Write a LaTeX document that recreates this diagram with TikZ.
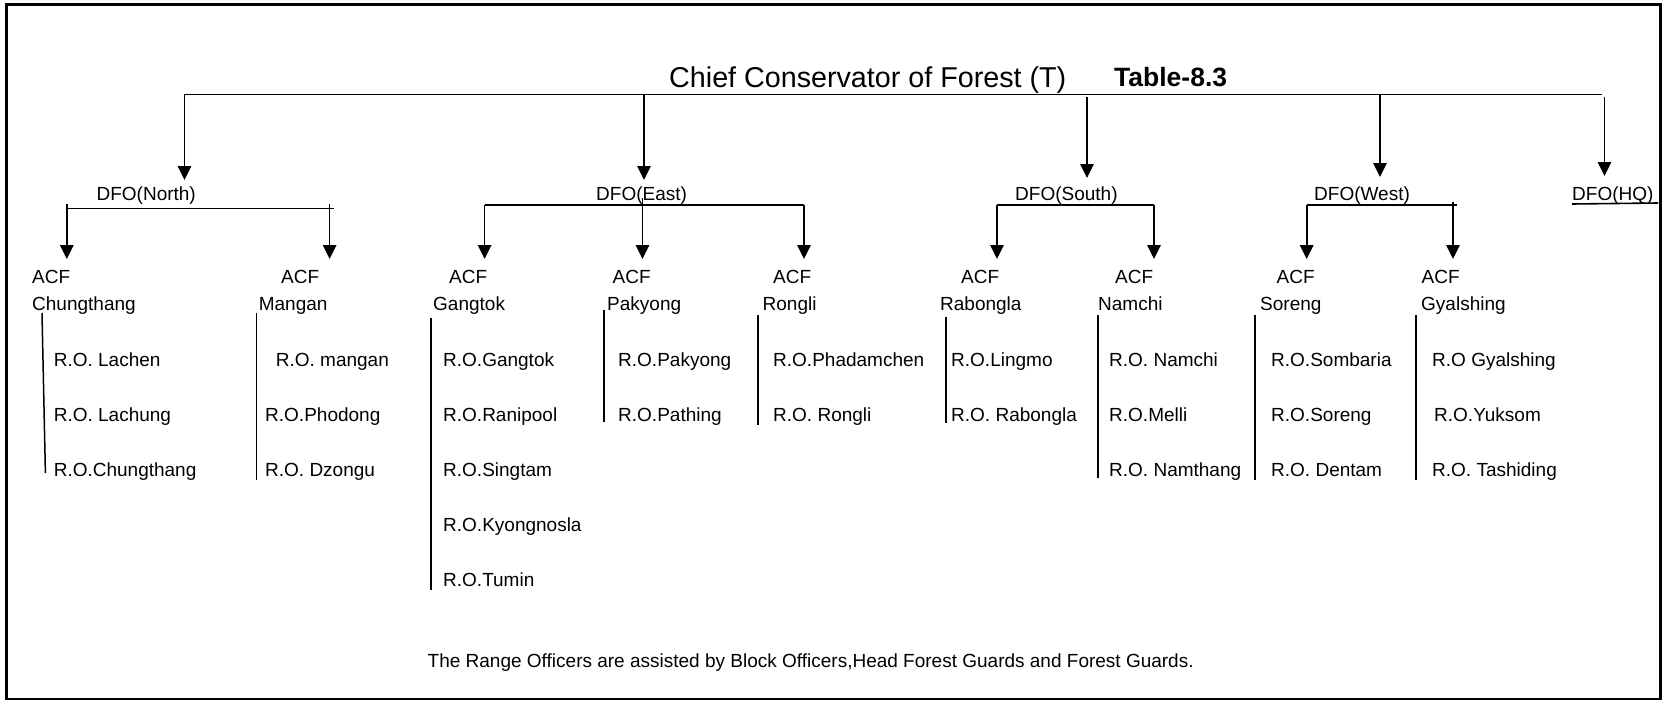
\documentclass[tikz,border=0pt]{standalone}
\usepackage{fontspec}
\setmainfont{Liberation Sans}
\usetikzlibrary{arrows.meta}

\tikzset{
  Label/.style={anchor=base west, inner sep=0pt, font=\fontsize{19}{22}\selectfont},
  Arrow/.style={line width=1.6pt, -{Triangle[length=14pt,width=13.5pt]}},
  Bus/.style={line width=1.6pt},
  Bar/.style={line width=1.5pt}
}

\begin{document}
\begin{tikzpicture}[x=1pt,y=-1pt]
    \useasboundingbox (0,0) rectangle (1663,701);
    \draw[line width=2.6pt] (6.5,4.5) rectangle (1660.5,699);

    \node[Label, font=\fontsize{28.7}{34}\selectfont] (CCF) at (669,87.3) {Chief Conservator of Forest (T)};
    \node[Label, font=\fontsize{26.5}{30}\selectfont\bfseries] (TAB) at (1114,87) {Table-8.3};

    % DFO level
    \node[Label] (DN) at (96.4,200)  {DFO(North)};
    \node[Label] (DE) at (596,200)   {DFO(East)};
    \node[Label] (DS) at (1015,200)  {DFO(South)};
    \node[Label] (DW) at (1314,200)  {DFO(West)};
    \node[Label] (DH) at (1572,200)  {DFO(HQ)};

    \coordinate (bN) at (184.5,94.4);  \coordinate (tN) at (184.5,180);
    \coordinate (bE) at (644,94.4);    \coordinate (tE) at (644,180);
    \coordinate (bS) at (1087,97);     \coordinate (tS) at (1087,178);
    \coordinate (bW) at (1380,94.4);   \coordinate (tW) at (1380,177);
    \coordinate (bH) at (1604.5,97);   \coordinate (tH) at (1604.5,176);
    \coordinate (bEnd) at (1602,94.4);

    \draw[Bus] (bN) -- (bEnd);
    \draw[Arrow] (bN) -- (tN);
    \draw[Arrow] (bE) -- (tE);
    \draw[Arrow] (bS) -- (tS);
    \draw[Arrow] (bW) -- (tW);
    \draw[Arrow] (bH) -- (tH);
    \draw[Bus] (1572,204) -- (1658,203);

    % ACF level
    \node[Label] (A1) at (32,283)     {ACF};
    \node[Label] (P1) at (32,310.5)   {Chungthang};
    \node[Label] (A2) at (281,283)    {ACF};
    \node[Label] (P2) at (258.6,310.5) {Mangan};
    \node[Label] (A3) at (449,283)    {ACF};
    \node[Label] (P3) at (433,310.5)  {Gangtok};
    \node[Label] (A4) at (612.5,283)  {ACF};
    \node[Label] (P4) at (607,310.5)  {Pakyong};
    \node[Label] (A5) at (773,283)    {ACF};
    \node[Label] (P5) at (762.5,310.5) {Rongli};
    \node[Label] (A6) at (961,283)    {ACF};
    \node[Label] (P6) at (940,310.5)  {Rabongla};
    \node[Label] (A7) at (1115,283)   {ACF};
    \node[Label] (P7) at (1098,310.5) {Namchi};
    \node[Label] (A8) at (1276.4,283) {ACF};
    \node[Label] (P8) at (1260,310.5) {Soreng};
    \node[Label] (A9) at (1421.5,283) {ACF};
    \node[Label] (P9) at (1421,310.5) {Gyalshing};

    \draw[Bus] (66.8,204) -- (66.8,208.3) -- (334,208.3);
    \draw[Arrow] (66.8,208.3) -- (66.8,259);
    \draw[Arrow] (329.6,204) -- (329.6,259);

    \draw[Bus] (484.6,205) -- (804,205);
    \draw[Arrow] (484.6,205) -- (484.6,259);
    \draw[Arrow] (642.5,198) -- (642.5,259);
    \draw[Arrow] (804,205) -- (804,259);

    \draw[Bus] (997,205) -- (1154,205);
    \draw[Arrow] (997,205) -- (997,259);
    \draw[Arrow] (1154,205) -- (1154,259);

    \draw[Bus] (1306.7,205) -- (1456.6,205);
    \draw[Arrow] (1306.7,205) -- (1306.7,259);
    \draw[Arrow] (1453,201.7) -- (1453,259);

    % Range Officers
    \draw[Bar] (42,313) -- (45.4,473);
    \node[Label] (R11) at (53.6,366) {R.O. Lachen};
    \node[Label] (R12) at (53.6,421) {R.O. Lachung};
    \node[Label] (R13) at (53.6,476) {R.O.Chungthang};

    \draw[Bar] (256.4,313) -- (256.4,480);
    \node[Label] (R21) at (275.7,366) {R.O. mangan};
    \node[Label] (R22) at (265,421)   {R.O.Phodong};
    \node[Label] (R23) at (265,476)   {R.O. Dzongu};

    \draw[Bar] (431,318) -- (431,590);
    \node[Label] (R31) at (443,366) {R.O.Gangtok};
    \node[Label] (R32) at (443,421) {R.O.Ranipool};
    \node[Label] (R33) at (443,476) {R.O.Singtam};
    \node[Label] (R34) at (443,531) {R.O.Kyongnosla};
    \node[Label] (R35) at (443,586) {R.O.Tumin};

    \draw[Bar] (604,310) -- (604,422);
    \node[Label] (R41) at (618,366) {R.O.Pakyong};
    \node[Label] (R42) at (618,421) {R.O.Pathing};

    \draw[Bar] (758,315) -- (758,425);
    \node[Label] (R51) at (773,366) {R.O.Phadamchen};
    \node[Label] (R52) at (773,421) {R.O. Rongli};

    \draw[Bar] (946,317) -- (946,423);
    \node[Label] (R61) at (951,366) {R.O.Lingmo};
    \node[Label] (R62) at (951,421) {R.O. Rabongla};

    \draw[Bar] (1098,315) -- (1098,478);
    \node[Label] (R71) at (1109,366) {R.O. Namchi};
    \node[Label] (R72) at (1109,421) {R.O.Melli};
    \node[Label] (R73) at (1109,476) {R.O. Namthang};

    \draw[Bar] (1255,315) -- (1255,480);
    \node[Label] (R81) at (1271,366) {R.O.Sombaria};
    \node[Label] (R82) at (1271,421) {R.O.Soreng};
    \node[Label] (R83) at (1271,476) {R.O. Dentam};

    \draw[Bar] (1416,315) -- (1416,480);
    \node[Label] (R91) at (1432,366) {R.O Gyalshing};
    \node[Label] (R92) at (1434,421) {R.O.Yuksom};
    \node[Label] (R93) at (1432,476) {R.O. Tashiding};

    \node[Label] (NOTE) at (427.5,667) {The Range Officers are assisted by Block Officers,Head Forest Guards and Forest Guards.};
\end{tikzpicture}
\end{document}
